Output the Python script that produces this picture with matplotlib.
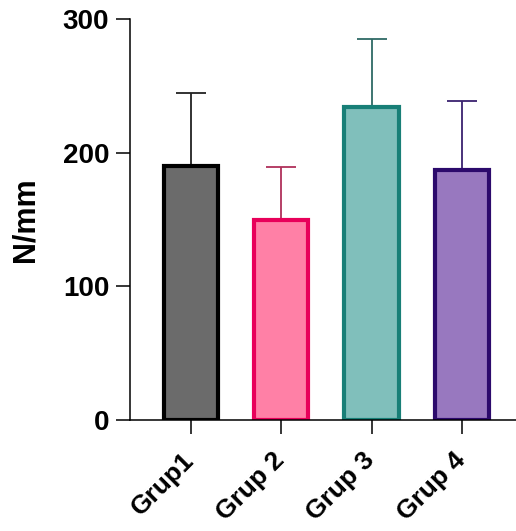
import matplotlib
matplotlib.use("Agg")
import matplotlib.pyplot as plt
import matplotlib.transforms as mtransforms
import numpy as np

categories = ["Grup1", "Grup 2", "Grup 3", "Grup 4"]
means = [190, 150, 234, 187]
sd = [55, 39, 51, 52]
fill_colors = ["#6b6b6b", "#ff80a6", "#80bfbb", "#9878bf"]
edge_colors = ["#000000", "#e8005a", "#187f77", "#2c0a6c"]
err_colors = ["#222222", "#b0305a", "#2f6a66", "#3a2270"]
yticks = [0, 100, 200, 300]

plt.rcParams['font.family'] = ['Liberation Sans', 'DejaVu Sans']
plt.rcParams['font.weight'] = 'bold'

fig = plt.figure(figsize=(5.16, 5.31), dpi=100)
ax = fig.add_axes([0.252, 0.209, 0.748, 0.755])

x = np.arange(len(categories))
for i in range(len(categories)):
    ax.errorbar(x[i], means[i], yerr=[[0], [sd[i]]], fmt='none', ecolor=err_colors[i],
                elinewidth=1.3, capsize=11, capthick=1.3, zorder=1)
    ax.bar(x[i], means[i], width=0.6, color=fill_colors[i], edgecolor=edge_colors[i],
           linewidth=3.0, zorder=2)

ax.set_xlim(-0.675, 3.6)
ax.set_ylim(0, 300)
ax.set_yticks(yticks)
ax.set_yticklabels([str(v) for v in yticks], fontsize=20, fontweight='bold')
ax.set_xticks(x)
ax.set_xticklabels(categories, rotation=45, ha='right', rotation_mode='anchor',
                   fontsize=19, fontweight='bold')
ax.set_ylabel("N/mm", fontsize=22, fontweight='bold', labelpad=16)

for s in ['top', 'right']:
    ax.spines[s].set_visible(False)
for s in ['left', 'bottom']:
    ax.spines[s].set_linewidth(1.1)
ax.spines['left'].set_bounds(0, 300)
ax.tick_params(axis='both', direction='out', length=10, width=1.1, pad=5)
ax.tick_params(axis='x', pad=8)

offset = mtransforms.ScaledTranslation(-9 / 100, -3 / 100, fig.dpi_scale_trans)
for lbl in ax.get_xticklabels():
    lbl.set_transform(lbl.get_transform() + offset)

fig.savefig("out.png", dpi=100)
